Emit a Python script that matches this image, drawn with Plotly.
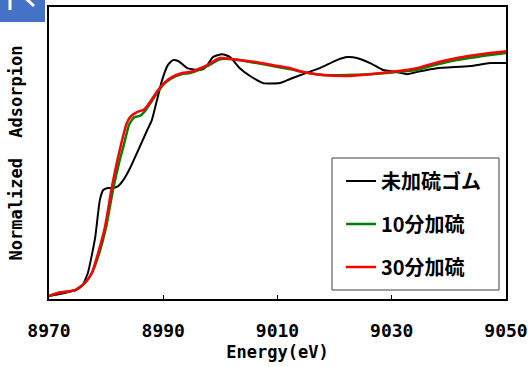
import plotly.graph_objects as go

# ---- data ----
energy_black = [8970.0, 8971.9, 8974.6, 8975.8, 8976.8, 8977.5, 8978.1, 8978.9, 8979.5, 8980.3,
                8981.2, 8982.1, 8983.0, 8984.2, 8985.4, 8987.2, 8988.0, 8988.9, 8989.8, 8990.8,
                8991.7, 8992.6, 8993.3, 8994.2, 8995.9, 8997.0, 8997.7, 8998.7, 9000.3, 9001.7,
                9003.4, 9005.2, 9007.5, 9010.4, 9012.2, 9014.5, 9017.4, 9020.4, 9022.2, 9023.9,
                9026.2, 9028.5, 9030.9, 9032.7, 9035.0, 9037.9, 9043.7, 9047.2, 9050.0]
abs_black = [0.013, 0.022, 0.039, 0.057, 0.113, 0.191, 0.270, 0.430, 0.474, 0.483,
             0.483, 0.491, 0.517, 0.570, 0.635, 0.735, 0.778, 0.865, 0.952, 1.017,
             1.039, 1.035, 1.022, 1.004, 0.996, 1.000, 1.017, 1.052, 1.065, 1.052,
             1.004, 0.970, 0.939, 0.939, 0.957, 0.978, 1.004, 1.039, 1.052, 1.048,
             1.026, 0.996, 0.987, 0.978, 0.991, 1.004, 1.013, 1.026, 1.026]

energy_10 = [8970.0, 8971.6, 8974.6, 8976.3, 8977.5, 8978.8, 8980.0, 8981.2, 8982.3, 8983.1,
             8984.0, 8984.9, 8985.9, 8986.8, 8987.9, 8989.1, 8990.3, 8991.5, 8993.3, 8994.7,
             8997.7, 8999.9, 9002.2, 9006.4, 9009.2, 9012.2, 9014.5, 9018.0, 9022.2, 9026.2,
             9030.9, 9034.4, 9036.2, 9041.4, 9047.2, 9050.0]
abs_10 = [0.013, 0.026, 0.039, 0.070, 0.113, 0.200, 0.313, 0.474, 0.596, 0.670,
          0.757, 0.791, 0.796, 0.817, 0.857, 0.904, 0.939, 0.961, 0.978, 0.983,
          1.013, 1.043, 1.043, 1.026, 1.013, 1.000, 0.987, 0.974, 0.974, 0.978,
          0.987, 0.996, 1.009, 1.039, 1.061, 1.070]

energy_30 = [8970.0, 8971.6, 8974.6, 8976.3, 8977.5, 8978.6, 8979.8, 8981.0, 8981.9, 8982.8,
             8983.5, 8984.2, 8985.4, 8986.5, 8987.3, 8989.1, 8990.3, 8991.5, 8993.3, 8994.7,
             8997.7, 8999.9, 9002.2, 9006.4, 9009.2, 9012.2, 9014.5, 9018.0, 9022.2, 9026.2,
             9030.9, 9034.4, 9036.2, 9041.4, 9047.2, 9050.0]
abs_30 = [0.013, 0.026, 0.039, 0.070, 0.113, 0.200, 0.313, 0.487, 0.596, 0.691,
          0.757, 0.791, 0.813, 0.822, 0.843, 0.909, 0.943, 0.965, 0.983, 0.987,
          1.017, 1.048, 1.043, 1.030, 1.017, 1.004, 0.987, 0.974, 0.970, 0.978,
          0.991, 1.004, 1.017, 1.048, 1.070, 1.078]

series_names = ["未加硫ゴム", "10分加硫", "30分加硫"]
x_ticks = [8970, 8990, 9010, 9030, 9050]
x_title = "Energy(eV)"
y_title = "Normalized  Adsorpion"

FONT = "Noto Sans CJK JP"
MONO = "DejaVu Sans Mono"

fig = go.Figure()
fig.add_trace(go.Scatter(x=energy_black, y=abs_black, mode="lines", name=series_names[0],
                         legendgroup="a", line=dict(color="black", width=2, shape="spline", smoothing=0.5)))
fig.add_trace(go.Scatter(x=energy_10, y=abs_10, mode="lines", name=series_names[1],
                         legendgroup="b", line=dict(color="#008000", width=2.5, shape="spline", smoothing=0.5)))
fig.add_trace(go.Scatter(x=energy_30, y=abs_30, mode="lines", name=series_names[2],
                         legendgroup="c", line=dict(color="#ff0000", width=2.5, shape="spline", smoothing=0.5)))

fig.update_layout(
    width=528, height=367,
    margin=dict(l=49, r=22, t=7, b=68, autoexpand=False),
    paper_bgcolor="white", plot_bgcolor="white",
    font=dict(family=FONT, color="black"),
    showlegend=True,
    legend=dict(x=0.639, y=0.471, xanchor="left", yanchor="top",
                borderwidth=0, bgcolor="rgba(0,0,0,0)",
                font=dict(family=FONT, size=20, color="black", weight="bold"),
                tracegroupgap=14, itemwidth=30),
    xaxis=dict(range=[8970, 9050], tickvals=x_ticks, ticktext=[str(t) for t in x_ticks],
               showgrid=False, zeroline=False, showline=True, linecolor="black", linewidth=2,
               mirror=True, ticks="inside", ticklen=4, tickcolor="black", tickwidth=1,
               automargin=False,
               tickfont=dict(family=MONO, size=18, weight="bold"), ticklabelstandoff=14,
               title=dict(text=x_title, font=dict(family=MONO, size=17, weight="bold"), standoff=7)),
    yaxis=dict(range=[0, 1.27], showticklabels=False, showgrid=False, zeroline=False,
               showline=True, linecolor="black", linewidth=2, mirror=True, ticks="",
               automargin=False,
               title=dict(text=y_title, font=dict(family=MONO, size=17, weight="bold"), standoff=20)),
    shapes=[
        # legend frame
        dict(type="rect", xref="paper", yref="paper", x0=(332-49)/457, x1=(499-49)/457,
             y0=(299-290)/292, y1=(299-158)/292, fillcolor="white",
             line=dict(color="#404040", width=1), layer="above"),
        # blue corner decoration
        dict(type="rect", xref="paper", yref="paper", x0=-49/457, x1=(45-49)/457,
             y0=(299-22)/292, y1=(299+7)/292, fillcolor="#4472C4", line=dict(width=0), layer="below"),
        dict(type="line", xref="paper", yref="paper", x0=(10-49)/457, x1=(10-49)/457,
             y0=(299-10)/292, y1=(299+7)/292, line=dict(color="white", width=3)),
        dict(type="line", xref="paper", yref="paper", x0=(20-49)/457, x1=(34-49)/457,
             y0=(299+7)/292, y1=(299-6)/292, line=dict(color="white", width=3)),
    ],
)

fig.write_html("out.html", config={"displayModeBar": False},
               post_script="document.body.style.margin='0';document.body.style.overflow='hidden';")
